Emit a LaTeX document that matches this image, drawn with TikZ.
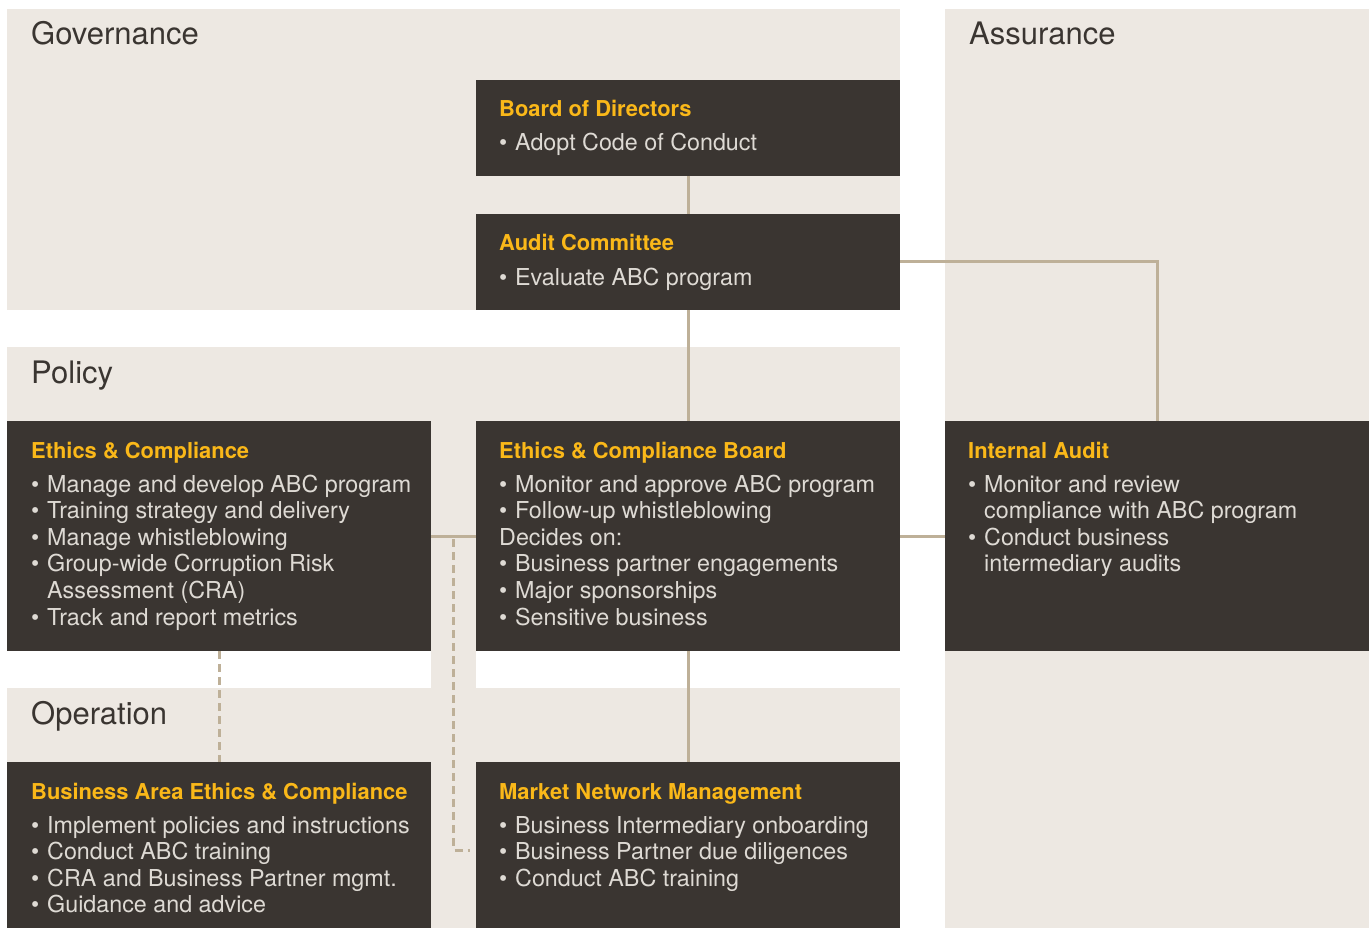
\documentclass[tikz,border=0pt]{standalone}
\usepackage{fontspec}
\setmainfont{TeX Gyre Heros}
\usetikzlibrary{calc}
\definecolor{bandcol}{RGB}{237,232,226}
\definecolor{boxbg}{RGB}{58,53,49}
\definecolor{gold}{RGB}{250,184,25}
\definecolor{bodytxt}{RGB}{222,218,212}
\definecolor{conn}{RGB}{190,176,152}
\definecolor{headtxt}{RGB}{58,53,49}
\newcommand{\bul}{\makebox[16pt][l]{\textbullet}}
\newcommand{\ind}{\hspace*{16pt}}
\begin{document}
\begin{tikzpicture}[x=1pt,y=-1pt,
  bandbox/.style={fill=bandcol, draw=none, inner sep=0pt, outer sep=0pt, anchor=north west},
  orgbox/.style={fill=boxbg, draw=none, inner sep=0pt, outer sep=0pt, anchor=north west, minimum width=424pt},
  heading/.style={anchor=base west, inner sep=0pt, text=headtxt, font=\fontsize{31}{36}\selectfont},
  boxtitle/.style={anchor=base west, inner sep=0pt, text=gold, font=\fontsize{21.9}{26}\selectfont\bfseries},
  boxbody/.style={anchor=base west, inner sep=0pt, text=bodytxt, font=\fontsize{23.3}{26.6}\selectfont},
  link/.style={draw=conn, line width=3pt},
  dlink/.style={draw=conn, line width=3pt, dash pattern=on 8pt off 5pt}
]
\useasboundingbox (0,0) rectangle (1371,928);
% bands
\node[bandbox, minimum width=893pt, minimum height=301pt] (gov) at (7,9) {};
\node[bandbox, minimum width=424pt, minimum height=919pt] (ass) at (945,9) {};
\node[bandbox, minimum width=893pt, minimum height=304pt] (pol) at (7,347) {};
\node[bandbox, minimum width=893pt, minimum height=240pt] (ope) at (7,688) {};
\node[bandbox, minimum width=45pt, minimum height=37pt] (strip) at (431,651) {};
% headings
\node[heading] (hgov) at ([shift={(24,36)}]gov.north west) {Governance};
\node[heading] (hass) at ([shift={(24,36)}]ass.north west) {Assurance};
\node[heading] (hpol) at ([shift={(24,36)}]pol.north west) {Policy};
\node[heading] (hope) at ([shift={(24,36)}]ope.north west) {Operation};
% boxes
\node[orgbox, minimum height=96pt] (bod) at (476,80) {};
\node[orgbox, minimum height=96pt] (ac) at (476,214) {};
\node[orgbox, minimum height=230pt] (ec) at (7,421) {};
\node[orgbox, minimum height=230pt] (ecb) at (476,421) {};
\node[orgbox, minimum height=230pt] (ia) at (945,421) {};
\node[orgbox, minimum height=166pt] (baec) at (7,762) {};
\node[orgbox, minimum height=166pt] (mnm) at (476,762) {};
% connectors
\draw[link] (bod.south) -- (ac.north);
\draw[link] (ac.south) -- (ecb.north);
\draw[link] (ac.east) -| (ia.north);
\draw[link] (ec.east) -- (ecb.west);
\draw[link] (ecb.east) -- (ia.west);
\draw[link] (ecb.south) -- (mnm.north);
\draw[dlink] (ec.south) -- (baec.north);
\coordinate (junc) at ($(ec.east)!0.5!(ecb.west)$);
\draw[dlink] ([yshift=-3pt]junc) |- ([yshift=-5pt,xshift=-6pt]mnm.west);
% texts
\node[boxtitle] (tbod) at ([shift={(23,37)}]bod.north west) {Board of Directors};
\node[boxbody] (bbod) at ([shift={(23,71)}]bod.north west) {\begin{tabular}[t]{@{}l@{}}\bul Adopt Code of Conduct\end{tabular}};
\node[boxtitle] (tac) at ([shift={(23,37)}]ac.north west) {Audit Committee};
\node[boxbody] (bac) at ([shift={(23,71)}]ac.north west) {\begin{tabular}[t]{@{}l@{}}\bul Evaluate ABC program\end{tabular}};
\node[boxtitle] (tec) at ([shift={(24,37)}]ec.north west) {Ethics \& Compliance};
\node[boxbody] (bec) at ([shift={(24,71)}]ec.north west) {\begin{tabular}[t]{@{}l@{}}
\bul Manage and develop ABC program\\
\bul Training strategy and delivery\\
\bul Manage whistleblowing\\
\bul Group-wide Corruption Risk\\
\ind Assessment (CRA)\\
\bul Track and report metrics\end{tabular}};
\node[boxtitle] (tecb) at ([shift={(23,37)}]ecb.north west) {Ethics \& Compliance Board};
\node[boxbody] (becb) at ([shift={(23,71)}]ecb.north west) {\begin{tabular}[t]{@{}l@{}}
\bul Monitor and approve ABC program\\
\bul Follow-up whistleblowing\\
Decides on:\\
\bul Business partner engagements\\
\bul Major sponsorships\\
\bul Sensitive business\end{tabular}};
\node[boxtitle] (tia) at ([shift={(23,37)}]ia.north west) {Internal Audit};
\node[boxbody] (bia) at ([shift={(23,71)}]ia.north west) {\begin{tabular}[t]{@{}l@{}}
\bul Monitor and review\\
\ind compliance with ABC program\\
\bul Conduct business\\
\ind intermediary audits\end{tabular}};
\node[boxtitle] (tbaec) at ([shift={(24,37)}]baec.north west) {Business Area Ethics \& Compliance};
\node[boxbody] (bbaec) at ([shift={(24,71)}]baec.north west) {\begin{tabular}[t]{@{}l@{}}
\bul Implement policies and instructions\\
\bul Conduct ABC training\\
\bul CRA and Business Partner mgmt.\\
\bul Guidance and advice\end{tabular}};
\node[boxtitle] (tmnm) at ([shift={(23,37)}]mnm.north west) {Market Network Management};
\node[boxbody] (bmnm) at ([shift={(23,71)}]mnm.north west) {\begin{tabular}[t]{@{}l@{}}
\bul Business Intermediary onboarding\\
\bul Business Partner due diligences\\
\bul Conduct ABC training\end{tabular}};
\end{tikzpicture}
\end{document}
